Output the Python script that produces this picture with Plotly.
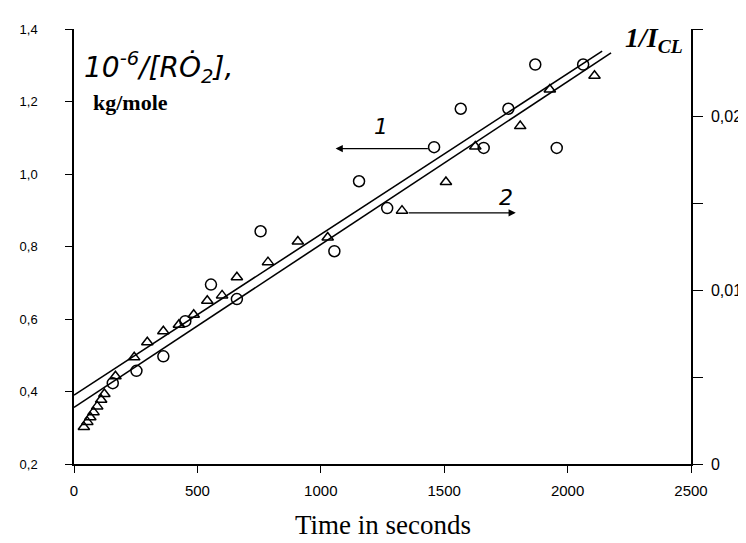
import plotly.graph_objects as go

# ---- data ----
# series 1: circles, left axis 10^-6/[RO2], kg/mole
circ_t = [157, 253, 362, 451, 555, 660, 756, 1055, 1155, 1269, 1459, 1567, 1660, 1760, 1869, 1956, 2063]
circ_v = [0.423, 0.457, 0.497, 0.594, 0.695, 0.655, 0.842, 0.787, 0.980, 0.906, 1.074, 1.180, 1.072, 1.180, 1.302, 1.072, 1.302]

# series 2: triangles, right axis 1/I_CL
tri_t = [40, 54, 66, 79, 94, 110, 123, 168, 244, 297, 362, 425, 485, 540, 600, 660, 786, 907, 1028, 1329, 1507, 1626, 1808, 1928, 2109]
tri_v = [0.00213, 0.00242, 0.00269, 0.00298, 0.00331, 0.00369, 0.00402, 0.00504, 0.00613, 0.00700,
         0.00763, 0.00800, 0.00858, 0.00938, 0.00969, 0.01073, 0.01160, 0.01279, 0.01302, 0.01456,
         0.01621, 0.01825, 0.01942, 0.02152, 0.02231]

# fitted straight lines
fit1_t = [0, 2176]
fit1_v = [0.356, 1.334]          # left axis units
fit2_t = [0, 2140]
fit2_v = [0.00396, 0.02373]      # right axis units

# axis ticks
x_ticks = [0, 500, 1000, 1500, 2000, 2500]
x_labels = ["0", "500", "1000", "1500", "2000", "2500"]
yl_ticks = [0.2, 0.4, 0.6, 0.8, 1.0, 1.2, 1.4]
yl_labels = ["0,2", "0,4", "0,6", "0,8", "1,0", "1,2", "1,4"]
yr_ticks = [0, 0.005, 0.01, 0.015, 0.02, 0.025]
yr_labels = ["0", "", "0,01", "", "0,02", ""]

SANS = "Liberation Sans, Arial"
SERIF = "Liberation Serif, Times New Roman"

fig = go.Figure()
fig.add_trace(go.Scatter(x=fit1_t, y=fit1_v, mode="lines", line=dict(color="black", width=1.6),
                         showlegend=False, yaxis="y"))
fig.add_trace(go.Scatter(x=fit2_t, y=fit2_v, mode="lines", line=dict(color="black", width=1.6),
                         showlegend=False, yaxis="y2"))
fig.add_trace(go.Scatter(x=circ_t, y=circ_v, mode="markers",
                         marker=dict(symbol="circle-open", size=11, color="black", line=dict(width=1.5)),
                         showlegend=False, yaxis="y"))
fig.add_trace(go.Scatter(x=tri_t, y=tri_v, mode="markers",
                         marker=dict(symbol="triangle-up-open", size=10, color="black", line=dict(width=1.5)),
                         showlegend=False, yaxis="y2"))

annotations = [
    dict(text="<i>10<sup>-6</sup>/[RȮ<sub>2</sub>],</i>", xref="paper", yref="paper", x=0.013, y=0.912,
         xanchor="left", yanchor="middle", showarrow=False,
         font=dict(family="DejaVu Sans, Verdana", size=28, color="black")),
    dict(text="<b>kg/mole</b>", xref="paper", yref="paper", x=0.027, y=0.832,
         xanchor="left", yanchor="middle", showarrow=False,
         font=dict(family=SERIF, size=22, color="black")),
    dict(text="<b><i>1/I<sub>CL</sub></i></b>", xref="paper", yref="paper", x=0.990, y=0.975,
         xanchor="right", yanchor="middle", showarrow=False,
         font=dict(family=SERIF, size=28, color="black")),
    dict(text="Time in seconds", xref="paper", yref="paper", x=0.5, y=-0.14,
         xanchor="center", yanchor="middle", showarrow=False,
         font=dict(family=SERIF, size=27, color="black")),
    dict(text="<i>1</i>", x=1242, y=1.132, xref="x", yref="y", showarrow=False,
         font=dict(family="DejaVu Sans, Verdana", size=22, color="black")),
    dict(text="<i>2</i>", x=1751, y=0.934, xref="x", yref="y", showarrow=False,
         font=dict(family="DejaVu Sans, Verdana", size=22, color="black")),
    dict(text="", x=1060, y=1.07, ax=1440, ay=1.07, xref="x", yref="y", axref="x", ayref="y",
         showarrow=True, arrowhead=2, arrowsize=1.2, arrowwidth=1.2, arrowcolor="black"),
    dict(text="", x=1790, y=0.893, ax=1350, ay=0.893, xref="x", yref="y", axref="x", ayref="y",
         showarrow=True, arrowhead=2, arrowsize=1.2, arrowwidth=1.2, arrowcolor="black"),
]

fig.update_layout(
    width=746, height=543,
    margin=dict(l=66, r=57, t=21, b=87, pad=0),
    paper_bgcolor="white", plot_bgcolor="white",
    showlegend=False,
    annotations=annotations,
    xaxis=dict(range=[0, 2500], tickvals=x_ticks, ticktext=x_labels, ticks="outside", ticklen=7,
               tickcolor="black", showline=True, linecolor="black", linewidth=1.5,
               showgrid=False, zeroline=False, ticklabelstandoff=5,
               tickfont=dict(family=SANS, size=15, color="black")),
    yaxis=dict(range=[0.2, 1.4], tickvals=yl_ticks, ticktext=yl_labels, ticks="outside", ticklen=7,
               tickcolor="black", showline=True, linecolor="black", linewidth=1.5,
               showgrid=False, zeroline=False, ticklabelstandoff=25,
               tickfont=dict(family=SANS, size=13, color="black")),
    yaxis2=dict(range=[0, 0.025], overlaying="y", side="right", tickvals=yr_ticks, ticktext=yr_labels,
                ticks="outside", ticklen=10, tickcolor="black", showline=True, linecolor="black",
                linewidth=1.5, showgrid=False, zeroline=False, ticklabelstandoff=5,
                tickfont=dict(family=SANS, size=16, color="black")),
)

fig.write_html("out.html")
